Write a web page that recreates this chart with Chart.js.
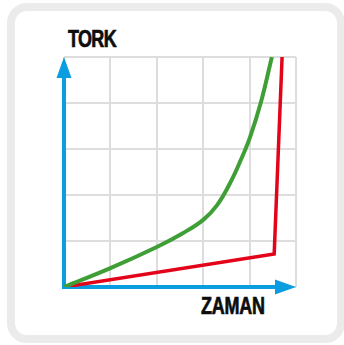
<!DOCTYPE html>
<html>
<head>
<meta charset="utf-8">
<script src="https://cdn.jsdelivr.net/npm/chart.js@4"></script>
<style>
  html, body { margin: 0; padding: 0; background: #fff; }
  body { width: 344px; height: 345px; position: relative; overflow: hidden; }
  .card {
    position: absolute; left: 7px; top: 3px;
    width: 322px; height: 324px;
    border: 8px solid #ebebeb; border-radius: 20px;
    background: #fff;
  }
  .label {
    position: absolute;
    font-family: "Liberation Sans", Arial, sans-serif;
    font-weight: bold; font-size: 23px; line-height: 23px;
    color: #0d0d0d;
    -webkit-text-stroke: 0.7px #0d0d0d;
    transform: scaleX(0.78);
    transform-origin: left top;
  }
  #chartBox { position: absolute; left: 0; top: 0; width: 344px; height: 345px; }
</style>
</head>
<body>
<div class="card"></div>
<div class="label" id="yTitle" style="left:68px; top:28px; letter-spacing:-0.8px;">TORK</div>
<div class="label" id="xTitle" style="left:201px; top:295px; letter-spacing:-0.3px;">ZAMAN</div>
<div id="chartBox"><canvas id="torkChart" width="344" height="345"></canvas></div>

<script>
// time (x) and torque (y) in grid units, 5 x 5 grid
const greenX = [0, 1, 2, 2.56, 3, 3.3, 3.58, 3.81, 4.01, 4.25, 4.48];
const greenY = [0, 0.41, 0.87, 1.17, 1.46, 1.78, 2.26, 2.76, 3.26, 4.04, 5.0];

const redX = [0, 4.53, 4.70];
const redY = [0, 0.72, 5.0];

const axisMax = 5;

const AXIS_BLUE = "#0a9de0";

const toPoints = (xs, ys) => xs.map((x, i) => ({ x: x, y: ys[i] }));

// blue axes with arrow heads, drawn on top of the grid
const arrowAxes = {
  id: "arrowAxes",
  beforeDatasetsDraw(chart) {
    const { ctx, scales } = chart;
    const x0 = scales.x.getPixelForValue(0);
    const x1 = scales.x.getPixelForValue(axisMax);
    const y0 = scales.y.getPixelForValue(0);
    const y1 = scales.y.getPixelForValue(axisMax);

    ctx.save();
    ctx.strokeStyle = AXIS_BLUE;
    ctx.fillStyle = AXIS_BLUE;
    ctx.lineWidth = 4;

    ctx.beginPath();
    ctx.moveTo(x0, y0 + 2);
    ctx.lineTo(x0, y1 + 18);
    ctx.moveTo(x0 - 2, y0);
    ctx.lineTo(x1 - 18, y0);
    ctx.stroke();

    // y arrow
    ctx.beginPath();
    ctx.moveTo(x0, y1);
    ctx.lineTo(x0 + 7.5, y1 + 21);
    ctx.lineTo(x0 - 7.5, y1 + 21);
    ctx.closePath();
    ctx.fill();

    // x arrow
    ctx.beginPath();
    ctx.moveTo(x1, y0);
    ctx.lineTo(x1 - 21, y0 - 7.5);
    ctx.lineTo(x1 - 21, y0 + 7.5);
    ctx.closePath();
    ctx.fill();
    ctx.restore();
  },
};

const scaleOpts = {
  type: "linear",
  min: 0,
  max: axisMax,
  ticks: { display: false, stepSize: 1 },
  border: { display: false },
  grid: { color: "#dddddd", lineWidth: 2, drawTicks: false },
};

new Chart(document.getElementById("torkChart"), {
  type: "scatter",
  data: {
    datasets: [
      {
        label: "green",
        data: toPoints(greenX, greenY),
        showLine: true,
        borderColor: "#3f9f36",
        borderWidth: 4,
        pointRadius: 0,
        tension: 0.4,
      },
      {
        label: "red",
        data: toPoints(redX, redY),
        showLine: true,
        borderColor: "#e3041a",
        borderWidth: 3.5,
        pointRadius: 0,
        borderJoinStyle: "miter",
      },
    ],
  },
  options: {
    responsive: false,
    animation: false,
    layout: { padding: { left: 64, top: 57, right: 48, bottom: 58 } },
    plugins: {
      legend: { display: false },
      tooltip: { enabled: false },
    },
    scales: {
      x: { ...scaleOpts, afterFit: (s) => { s.height = 0; } },
      y: { ...scaleOpts, afterFit: (s) => { s.width = 0; } },
    },
  },
  plugins: [arrowAxes],
});
</script>
</body>
</html>
